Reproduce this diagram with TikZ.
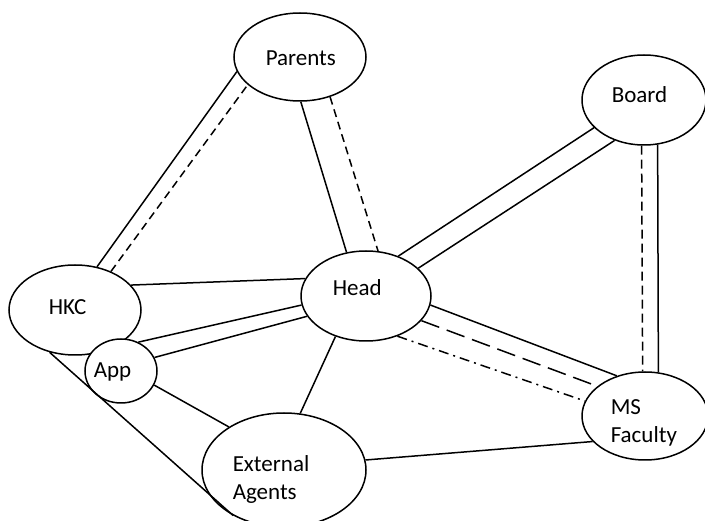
\documentclass[tikz,border=0pt]{standalone}
\usepackage{fontspec}
\setmainfont{Carlito}
\usetikzlibrary{shapes.geometric}
\begin{document}
\begin{tikzpicture}[x=1pt,y=-1pt,
  line width=1.5pt,
  oval/.style={ellipse,draw,line width=1.5pt,inner sep=0pt,fill=white},
  lbl/.style={anchor=base west,inner sep=0pt,font=\fontsize{23}{28}\selectfont},
  shortdash/.style={dash pattern=on 8pt off 5pt},
  vdash/.style={dash pattern=on 9pt off 5pt},
  longdash/.style={dash pattern=on 19pt off 8pt},
  dashdot/.style={dash pattern=on 10pt off 5pt on 2pt off 5pt}]
\useasboundingbox (0,0) rectangle (705,521);
% ellipses
\node[oval,minimum width=132pt,minimum height=88pt] (parents) at (300,57) {};
\node[oval,minimum width=124pt,minimum height=90pt] (board) at (644,100) {};
\node[oval,minimum width=130pt,minimum height=90pt] (head) at (366,296) {};
\node[oval,minimum width=132pt,minimum height=90pt] (hkc) at (75,310) {};
\node[oval,minimum width=72pt,minimum height=64pt] (app) at (121,371) {};
\node[oval,minimum width=164pt,minimum height=114pt] (ext) at (284,470) {};
\node[oval,minimum width=126pt,minimum height=88pt] (ms) at (645,416) {};
% labels
\node[lbl] (tparents) at (265,66) {Parents};
\node[lbl] (tboard) at (611,103) {Board};
\node[lbl] (thead) at (332,296) {Head};
\node[lbl] (thkc) at (48,315) {HKC};
\node[lbl] (tapp) at (93,378) {App};
\node[lbl] (text1) at (232,472) {External};
\node[lbl] (text2) at (232,500) {Agents};
\node[lbl] (tms1) at (610,415) {MS};
\node[lbl] (tms2) at (610,443) {Faculty};
% connectors
\draw (hkc.63.4) -- (parents.193.6);
\draw[shortdash] (hkc.47.7) -- (parents.208.5);
\draw (parents.271) -- (head.114.4);
\draw[shortdash] (parents.307.5) -- (head.75.4);
\draw (head.51.3) -- (board.209.7);
\draw (head.28.2) -- (board.234.2);
\draw[vdash] (board.267.4) -- (ms.93.9);
\draw (board.287.7) -- (ms.73.5);
\draw (hkc.24.4) -- (head.164.7);
\draw (app.59.3) -- (head.188.6);
\draw (app.22.6) -- (head.199.5);
\draw (app.337.4) -- (ext.142.7);
\draw (hkc.239) -- (ext.222.1);
\draw (head.233.1) -- (ext.74);
\draw (head.352.1) -- (ms.125.2);
\draw[longdash] (head.336) -- (ms.148.5);
\draw[dashdot] (head.308.3) -- (ms.166.6);
\draw (ext.7) -- (ms.206.1);
\end{tikzpicture}
\end{document}
